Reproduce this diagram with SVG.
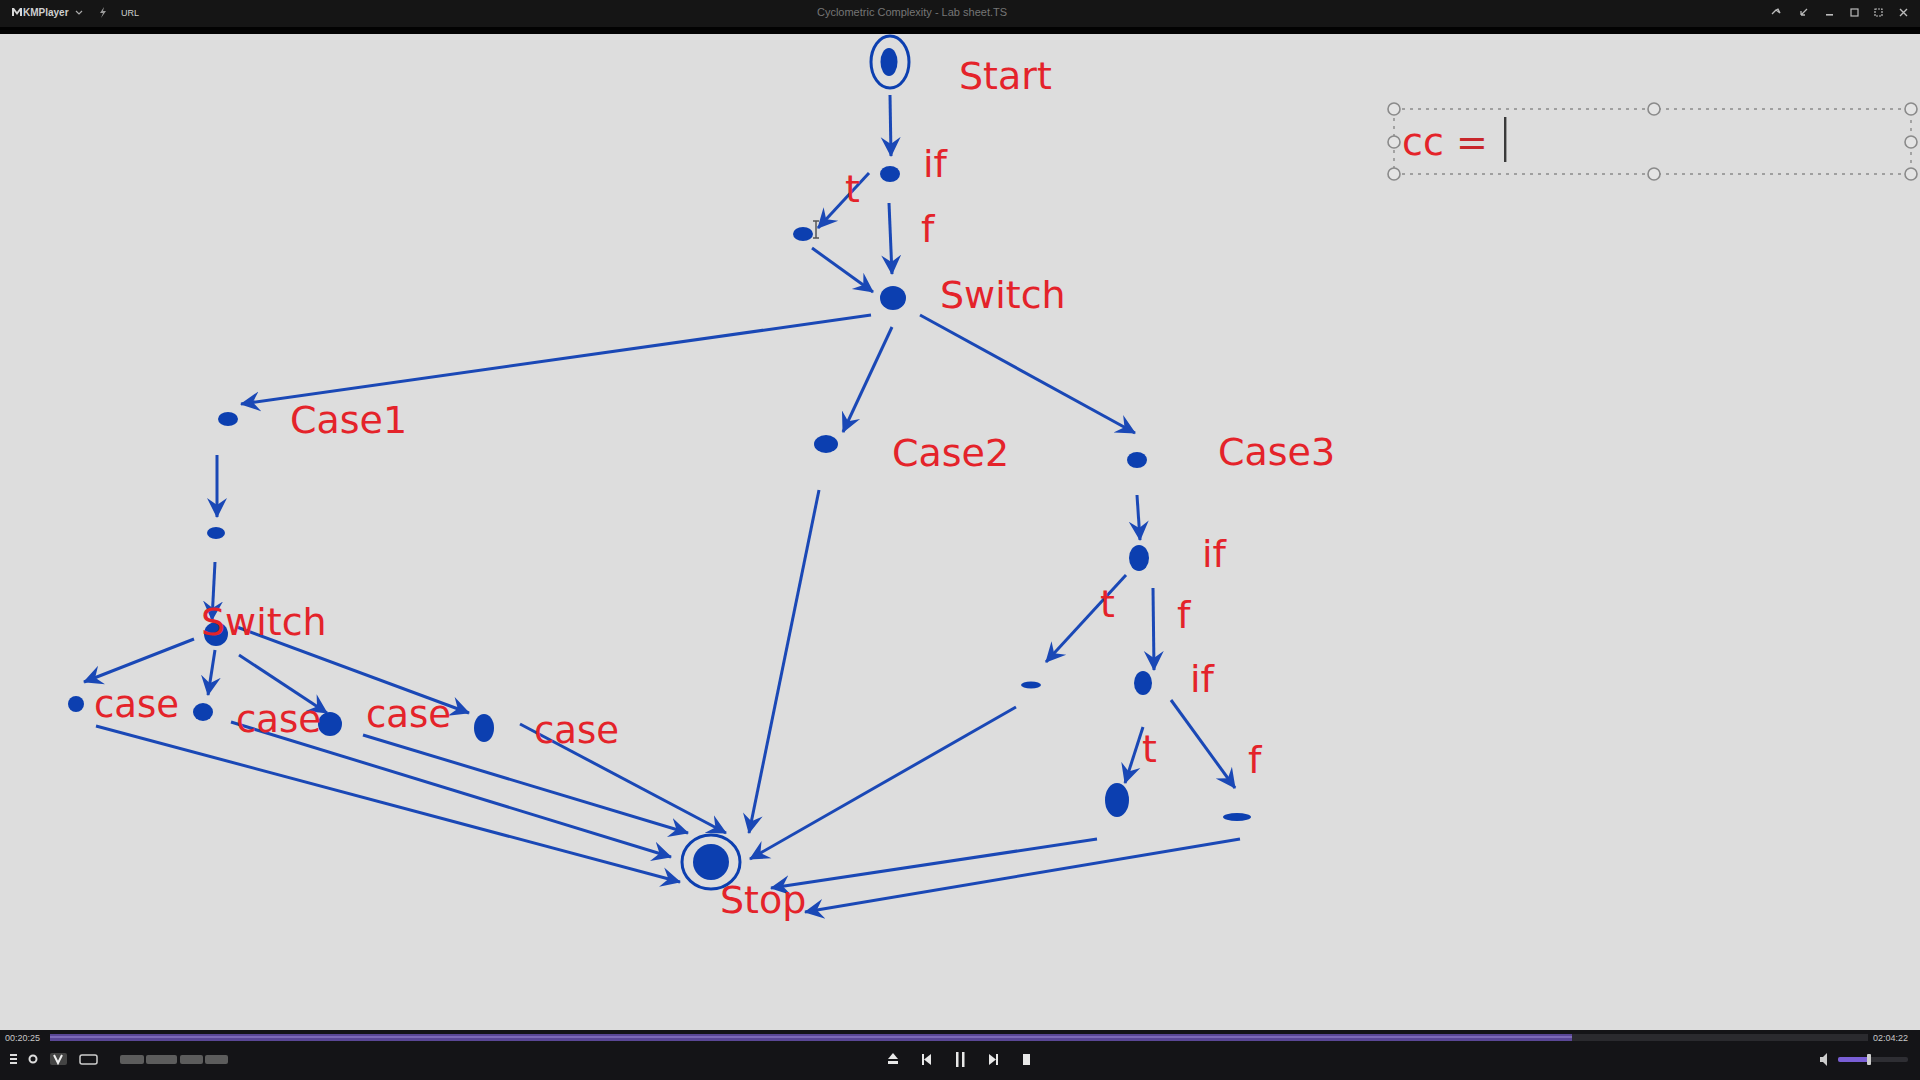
<svg xmlns="http://www.w3.org/2000/svg" width="1920" height="1080" viewBox="0 0 1920 1080">
<defs>
<style>
.lbl{font-family:"DejaVu Sans","Verdana",sans-serif;font-size:38px;fill:#e4232a}
.cs{font-size:37px}
.ln{stroke:#1a48b6;stroke-width:3;fill:none;marker-end:url(#ah)}
.nd{fill:#0c3fb0}
.ui{font-family:"Liberation Sans",Arial,sans-serif;fill:#cfcfcf}
.hd{fill:#e4e4e4;stroke:#8a8a8a;stroke-width:1.6}
.ic{fill:#e8e8e8}
</style>
<marker id="ah" viewBox="0 0 20 22" refX="19" refY="11" markerWidth="20" markerHeight="22" markerUnits="userSpaceOnUse" orient="auto">
<path d="M0,1 L20,11 L0,21 L7,11 Z" fill="#1a48b6"/>
</marker>
</defs>

<!-- window chrome -->
<rect x="0" y="0" width="1920" height="1080" fill="#dddddd"/>
<rect x="0" y="0" width="1920" height="27" fill="#151515"/>
<rect x="0" y="27" width="1920" height="7" fill="#020202"/>
<g id="titlebar">
<path d="M12,8 L14,8 L17,12 L20,8 L22,8 L22,16 L20,16 L20,11 L17,15 L14,11 L14,16 L12,16 Z" fill="#d8d8d8"/>
<text class="ui" x="23" y="16" font-size="10" font-weight="bold">KMPlayer</text>
<path d="M76,11 L79,14 L82,11" stroke="#aaa" stroke-width="1.2" fill="none"/>
<path d="M104,7 L100,13 L103,13 L101,18 L106,11 L103,11 Z" fill="#9a9a9a"/>
<text class="ui" x="121" y="16" font-size="9" fill="#9a9a9a">URL</text>
<text class="ui" x="912" y="16" font-size="11" text-anchor="middle" style="fill:#767676">Cyclometric Complexity - Lab sheet.TS</text>
<path d="M1772,14 L1776,10 M1776,10 L1780,13 L1778,9 Z" stroke="#bbb" stroke-width="1.3" fill="none"/>
<path d="M1801,15 L1807,9 M1801,15 L1801,11 M1801,15 L1805,15" stroke="#bbb" stroke-width="1.3" fill="none"/>
<rect x="1826" y="14" width="7" height="1.6" fill="#bbb"/>
<rect x="1851" y="9" width="7" height="7" fill="none" stroke="#bbb" stroke-width="1.2"/>
<rect x="1875" y="9" width="7" height="7" fill="none" stroke="#bbb" stroke-width="1.2" stroke-dasharray="2 1"/>
<path d="M1900,9 L1907,16 M1907,9 L1900,16" stroke="#bbb" stroke-width="1.4"/>
</g>

<!-- bottom control bar -->
<rect x="0" y="1030" width="1920" height="50" fill="#141417"/>
<g id="controls">
<rect x="50" y="1034" width="1818" height="7" fill="#2a2a2e"/>
<rect x="50" y="1034" width="1522" height="7" fill="#5a4796"/>
<rect x="50" y="1036" width="1522" height="2" fill="#7d6ab8"/>
<text class="ui" x="5" y="1041" font-size="9" style="fill:#c8c8c8">00:20:25</text>
<text class="ui" x="1873" y="1041" font-size="9" style="fill:#c8c8c8">02:04:22</text>
<rect x="10" y="1054" width="7" height="2" fill="#ddd"/><rect x="10" y="1058" width="7" height="2" fill="#ddd"/><rect x="10" y="1062" width="7" height="2" fill="#ddd"/>
<circle cx="33" cy="1059" r="3.5" fill="none" stroke="#ddd" stroke-width="2"/>
<rect x="50" y="1053" width="17" height="12" rx="2" fill="#444"/><path d="M54,1055 L58,1063 L62,1055" stroke="#eee" stroke-width="2" fill="none"/>
<rect x="80" y="1055" width="17" height="9" rx="2" fill="none" stroke="#ccc" stroke-width="1.5"/>
<rect x="120" y="1055" width="24" height="9" rx="2" fill="#5c5c5c"/>
<rect x="146" y="1055" width="31" height="9" rx="2" fill="#5c5c5c"/>
<rect x="180" y="1055" width="23" height="9" rx="2" fill="#5c5c5c"/>
<rect x="205" y="1055" width="23" height="9" rx="2" fill="#5c5c5c"/>
<path d="M888,1059 L893,1053 L898,1059 Z" class="ic"/><rect x="888" y="1061" width="10" height="3" class="ic"/>
<rect x="922" y="1054" width="2" height="11" class="ic"/><path d="M931,1054 L924,1059.5 L931,1065 Z" class="ic"/>
<rect x="956" y="1052" width="2.5" height="15" class="ic"/><rect x="962" y="1052" width="2.5" height="15" class="ic"/>
<path d="M989,1054 L996,1059.5 L989,1065 Z" class="ic"/><rect x="996" y="1054" width="2" height="11" class="ic"/>
<rect x="1023" y="1054" width="7" height="11" class="ic"/>
<path d="M1820,1057 L1823,1057 L1827,1053 L1827,1066 L1823,1062 L1820,1062 Z" fill="#ccc"/>
<rect x="1838" y="1057" width="70" height="5" rx="2" fill="#2e2e33"/>
<rect x="1838" y="1057" width="32" height="5" rx="2" fill="#7a5fd6"/>
<rect x="1867" y="1054" width="4" height="11" rx="1" fill="#cfcfcf"/>
</g>

<!-- cc text box -->
<g id="cc-box">
<rect x="1394" y="109" width="517" height="65" fill="none" stroke="#8a8a8a" stroke-width="1.4" stroke-dasharray="3 5"/>
<circle class="hd" cx="1394" cy="109" r="6"/><circle class="hd" cx="1654" cy="109" r="6"/><circle class="hd" cx="1911" cy="109" r="6"/>
<circle class="hd" cx="1394" cy="142" r="6"/><circle class="hd" cx="1911" cy="142" r="6"/>
<circle class="hd" cx="1394" cy="174" r="6"/><circle class="hd" cx="1654" cy="174" r="6"/><circle class="hd" cx="1911" cy="174" r="6"/>
<text class="lbl" x="1402" y="155" font-size="40">cc <tspan fill="#c8262b">=</tspan></text>
<rect x="1504" y="117" width="2.4" height="45" fill="#3a3a3a"/>
</g>

<!-- connectors -->
<g id="connectors">
<line class="ln" x1="890" y1="95" x2="891" y2="156"/>
<line class="ln" x1="869" y1="173" x2="818" y2="228"/>
<line class="ln" x1="889" y1="203" x2="892" y2="274"/>
<line class="ln" x1="812" y1="248" x2="873" y2="292"/>
<line class="ln" x1="871" y1="315" x2="241" y2="404"/>
<line class="ln" x1="892" y1="327" x2="843" y2="432"/>
<line class="ln" x1="920" y1="315" x2="1135" y2="433"/>
<line class="ln" x1="217" y1="455" x2="217" y2="517"/>
<line class="ln" x1="215" y1="562" x2="212" y2="620"/>
<line class="ln" x1="194" y1="639" x2="84" y2="682"/>
<line class="ln" x1="215" y1="650" x2="208" y2="695"/>
<line class="ln" x1="239" y1="655" x2="327" y2="713"/>
<line class="ln" x1="237" y1="627" x2="469" y2="713"/>
<line class="ln" x1="96" y1="726" x2="680" y2="882"/>
<line class="ln" x1="231" y1="722" x2="671" y2="857"/>
<line class="ln" x1="363" y1="735" x2="688" y2="833"/>
<line class="ln" x1="520" y1="724" x2="726" y2="833"/>
<line class="ln" x1="819" y1="490" x2="749" y2="833"/>
<line class="ln" x1="1137" y1="495" x2="1140" y2="540"/>
<line class="ln" x1="1126" y1="575" x2="1046" y2="662"/>
<line class="ln" x1="1153" y1="588" x2="1154" y2="670"/>
<line class="ln" x1="1016" y1="707" x2="750" y2="859"/>
<line class="ln" x1="1143" y1="727" x2="1125" y2="783"/>
<line class="ln" x1="1171" y1="700" x2="1235" y2="788"/>
<line class="ln" x1="1097" y1="839" x2="771" y2="888"/>
<line class="ln" x1="1240" y1="839" x2="805" y2="912"/>
</g>

<!-- nodes -->
<g id="start">
<ellipse cx="890" cy="62" rx="19" ry="26" fill="none" stroke="#0c3fb0" stroke-width="3"/>
<ellipse class="nd" cx="889" cy="62" rx="8.5" ry="14"/>
</g>
<g id="if1"><ellipse class="nd" cx="890" cy="174" rx="10" ry="8"/></g>
<g id="t1"><ellipse class="nd" cx="803" cy="234" rx="10" ry="7"/></g>
<g id="switch1"><ellipse class="nd" cx="893" cy="298" rx="13" ry="12"/></g>
<g id="case1"><ellipse class="nd" cx="228" cy="419" rx="10" ry="7"/></g>
<g id="case1b"><ellipse class="nd" cx="216" cy="533" rx="9" ry="6"/></g>
<g id="switch2"><ellipse class="nd" cx="216" cy="634" rx="12" ry="12"/></g>
<g id="caseA"><ellipse class="nd" cx="76" cy="704" rx="8" ry="8"/></g>
<g id="caseB"><ellipse class="nd" cx="203" cy="712" rx="10" ry="9"/></g>
<g id="caseC"><ellipse class="nd" cx="330" cy="724" rx="12" ry="12"/></g>
<g id="caseD"><ellipse class="nd" cx="484" cy="728" rx="10" ry="14"/></g>
<g id="case2"><ellipse class="nd" cx="826" cy="444" rx="12" ry="9"/></g>
<g id="case3"><ellipse class="nd" cx="1137" cy="460" rx="10" ry="8"/></g>
<g id="if2"><ellipse class="nd" cx="1139" cy="558" rx="10" ry="13"/></g>
<g id="t2"><ellipse class="nd" cx="1031" cy="685" rx="10" ry="3.5"/></g>
<g id="if3"><ellipse class="nd" cx="1143" cy="683" rx="9" ry="12"/></g>
<g id="t3"><ellipse class="nd" cx="1117" cy="800" rx="12" ry="17"/></g>
<g id="f3"><ellipse class="nd" cx="1237" cy="817" rx="14" ry="4"/></g>
<g id="stop">
<ellipse cx="711" cy="862" rx="29" ry="27" fill="none" stroke="#0c3fb0" stroke-width="3"/>
<ellipse class="nd" cx="711" cy="862" rx="18" ry="18"/>
</g>

<!-- labels -->
<g id="labels">
<text class="lbl" x="959" y="89">Start</text>
<text class="lbl" x="923" y="177">if</text>
<text class="lbl" x="845" y="202">t</text>
<text class="lbl" x="921" y="242">f</text>
<text class="lbl" x="940" y="308">Switch</text>
<text class="lbl" x="290" y="433">Case1</text>
<text class="lbl" x="892" y="466">Case2</text>
<text class="lbl" x="1218" y="465">Case3</text>
<text class="lbl" x="1202" y="567">if</text>
<text class="lbl" x="1100" y="617">t</text>
<text class="lbl" x="1177" y="628">f</text>
<text class="lbl" x="1190" y="692">if</text>
<text class="lbl" x="1142" y="762">t</text>
<text class="lbl" x="1248" y="773">f</text>
<text class="lbl" x="201" y="635">Switch</text>
<text class="lbl cs" x="94" y="717">case</text>
<text class="lbl cs" x="236" y="732">case</text>
<text class="lbl cs" x="366" y="727">case</text>
<text class="lbl cs" x="534" y="743">case</text>
<text class="lbl" x="720" y="913">Stop</text>
</g>

<!-- mouse I-beam cursor -->
<path d="M813,221 L819,221 M816,221 L816,238 M813,238 L819,238" stroke="#555" stroke-width="1.5" fill="none"/>
</svg>
